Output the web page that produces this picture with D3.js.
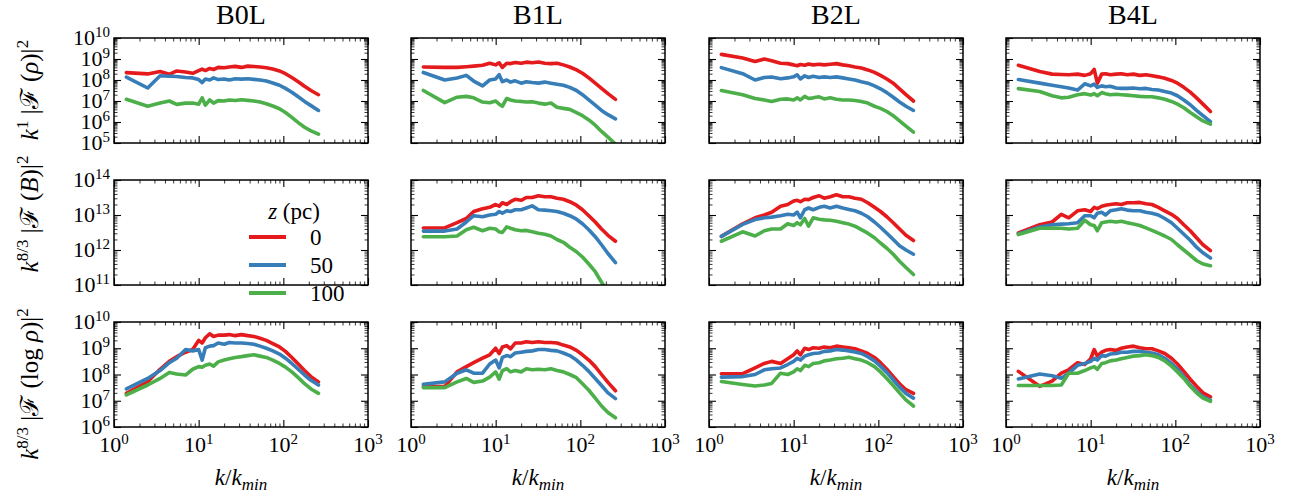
<!DOCTYPE html>
<html>
<head>
<meta charset="utf-8">
<script src="https://cdn.jsdelivr.net/npm/d3@7"></script>
<style>
  body { margin: 0; background: #fff; }
  svg { display: block; }
  text, tspan { font-family: "Liberation Serif", "Times New Roman", "DejaVu Serif", serif; fill: #000; }
</style>
</head>
<body>
<svg id="chart" width="1298" height="499"></svg>
<script>
// Simulation runs (columns), heights above the midplane (series), colours
const runs = ["B0L", "B1L", "B2L", "B4L"];
const heightsPc = ["0", "50", "100"];
const seriesColors = ["#e41a1c", "#377eb8", "#4daf4a"];

// Wavenumber sampling, k / k_min
const kOverKmin = [1.4, 2.5, 3.5, 4.5, 5.5, 7, 8.5, 10, 11, 12, 13.5, 15, 17, 20, 23, 27, 32, 38, 45, 53, 63, 75, 90, 106, 126, 150, 178, 212, 260];

// Row 1: log10 of k |F(rho)|^2
const dens_B0L_0   = [8.35, 8.29, 8.4, 8.27, 8.43, 8.38, 8.32, 8.45, 8.52, 8.45, 8.55, 8.5, 8.6, 8.58, 8.62, 8.65, 8.6, 8.66, 8.64, 8.62, 8.58, 8.52, 8.43, 8.3, 8.12, 7.92, 7.7, 7.5, 7.3];
const dens_B0L_50  = [8.14, 7.62, 8.2, 8.18, 8.17, 8.12, 8.1, 8.02, 7.88, 8.05, 8.0, 8.1, 8.02, 8.05, 8.0, 8.06, 8.04, 8.06, 8.03, 8.0, 7.95, 7.86, 7.75, 7.6, 7.42, 7.2, 6.98, 6.78, 6.55];
const dens_B0L_100 = [7.08, 6.75, 6.9, 7.0, 6.84, 6.9, 6.9, 6.85, 7.15, 6.8, 7.05, 6.9, 7.02, 7.0, 7.05, 7.02, 7.06, 7.03, 7.0, 6.95, 6.87, 6.76, 6.63, 6.45, 6.22, 5.97, 5.75, 5.58, 5.42];
const dens_B1L_0   = [8.62, 8.6, 8.6, 8.63, 8.66, 8.7, 8.8, 8.72, 8.82, 8.6, 8.8, 8.78, 8.83, 8.8, 8.85, 8.82, 8.86, 8.8, 8.78, 8.8, 8.72, 8.62, 8.48, 8.32, 8.1, 7.85, 7.6, 7.35, 7.08];
const dens_B1L_50  = [8.36, 8.0, 8.1, 8.22, 7.95, 7.72, 8.0, 8.05, 8.25, 7.92, 8.0, 7.9, 7.96, 7.85, 7.92, 7.88, 7.85, 7.9, 7.85, 7.8, 7.75, 7.65, 7.5, 7.3, 7.05, 6.8, 6.55, 6.35, 6.15];
const dens_B1L_100 = [7.5, 6.92, 7.18, 7.22, 7.15, 6.95, 6.92, 7.0, 6.85, 6.75, 7.12, 7.05, 7.0, 6.98, 6.95, 6.96, 6.9, 6.85, 6.9, 6.7, 6.65, 6.6, 6.45, 6.3, 6.1, 5.85, 5.55, 5.28, 4.95];
const dens_B2L_0   = [9.22, 9.05, 8.88, 9.0, 8.92, 8.8, 8.78, 8.72, 8.68, 8.74, 8.7, 8.76, 8.72, 8.75, 8.72, 8.75, 8.78, 8.72, 8.68, 8.62, 8.57, 8.48, 8.36, 8.22, 8.05, 7.85, 7.58, 7.3, 7.0];
const dens_B2L_50  = [8.59, 8.3, 8.0, 8.12, 8.14, 8.06, 8.1, 8.15, 8.25, 8.05, 8.2, 8.12, 8.18, 8.12, 8.15, 8.12, 8.15, 8.1, 8.05, 8.0, 7.92, 7.85, 7.72, 7.58, 7.4, 7.18, 6.95, 6.75, 6.55];
const dens_B2L_100 = [7.5, 7.3, 7.12, 7.05, 6.98, 7.08, 7.1, 7.05, 7.15, 7.05, 7.22, 7.12, 7.15, 7.2, 7.1, 7.15, 7.08, 7.05, 7.05, 7.02, 6.98, 6.9, 6.75, 6.65, 6.5, 6.3, 6.05, 5.8, 5.52];
const dens_B4L_0   = [8.7, 8.4, 8.28, 8.26, 8.25, 8.28, 8.22, 8.3, 8.5, 7.85, 8.28, 8.3, 8.25, 8.28, 8.3, 8.25, 8.28, 8.22, 8.25, 8.2, 8.15, 8.08, 7.98, 7.85, 7.65, 7.42, 7.15, 6.85, 6.5];
const dens_B4L_50  = [8.02, 7.85, 7.75, 7.68, 7.62, 7.52, 7.82, 7.72, 7.8, 7.65, 7.72, 7.68, 7.7, 7.62, 7.6, 7.6, 7.62, 7.58, 7.6, 7.55, 7.52, 7.45, 7.38, 7.25, 7.05, 6.82, 6.55, 6.3, 6.02];
const dens_B4L_100 = [7.59, 7.45, 7.25, 7.15, 7.18, 7.3, 7.35, 7.28, 7.35, 7.25, 7.4, 7.35, 7.3, 7.32, 7.3, 7.28, 7.25, 7.22, 7.2, 7.2, 7.15, 7.08, 6.98, 6.85, 6.68, 6.45, 6.25, 6.05, 5.9];

// Row 2: log10 of k^(8/3) |F(B)|^2 (no field in B0L)
const mag_B0L_0 = [], mag_B0L_50 = [], mag_B0L_100 = [];
const mag_B1L_0   = [12.63, 12.63, 12.78, 12.9, 13.1, 13.18, 13.22, 13.3, 13.25, 13.35, 13.3, 13.38, 13.45, 13.42, 13.5, 13.5, 13.55, 13.52, 13.52, 13.48, 13.45, 13.38, 13.28, 13.15, 12.98, 12.8, 12.6, 12.42, 12.25];
const mag_B1L_50  = [12.54, 12.54, 12.6, 12.8, 12.98, 12.95, 13.0, 13.02, 13.1, 13.05, 13.12, 13.1, 13.15, 13.15, 13.2, 13.26, 13.15, 13.14, 13.12, 13.1, 13.05, 12.98, 12.88, 12.75, 12.58, 12.38, 12.15, 11.9, 11.64];
const mag_B1L_100 = [12.38, 12.38, 12.4, 12.58, 12.65, 12.55, 12.62, 12.6, 12.52, 12.5, 12.66, 12.62, 12.58, 12.55, 12.56, 12.52, 12.48, 12.45, 12.4, 12.3, 12.22, 12.08, 11.95, 11.8, 11.6, 11.38, 11.08, 10.8, 10.5];
const mag_B2L_0   = [12.39, 12.75, 12.92, 13.0, 13.08, 13.25, 13.3, 13.4, 13.42, 13.38, 13.45, 13.44, 13.5, 13.55, 13.48, 13.52, 13.58, 13.52, 13.52, 13.48, 13.45, 13.35, 13.22, 13.1, 12.95, 12.78, 12.6, 12.42, 12.27];
const mag_B2L_50  = [12.39, 12.73, 12.87, 12.92, 12.94, 12.98, 13.02, 13.0, 13.08, 12.92, 13.15, 13.2, 13.15, 13.22, 13.25, 13.2, 13.25, 13.2, 13.16, 13.12, 13.05, 12.95, 12.8, 12.65, 12.48, 12.3, 12.12, 12.0, 11.88];
const mag_B2L_100 = [12.25, 12.52, 12.4, 12.55, 12.6, 12.6, 12.75, 12.7, 12.78, 12.72, 12.9, 12.68, 12.92, 12.88, 12.86, 12.85, 12.82, 12.78, 12.74, 12.68, 12.58, 12.48, 12.35, 12.2, 12.05, 11.88, 11.68, 11.5, 11.3];
const mag_B4L_0   = [12.49, 12.72, 12.8, 13.02, 12.92, 13.12, 13.15, 13.1, 13.22, 13.18, 13.25, 13.28, 13.3, 13.32, 13.3, 13.35, 13.35, 13.36, 13.32, 13.3, 13.22, 13.12, 13.02, 12.9, 12.72, 12.55, 12.35, 12.15, 11.98];
const mag_B4L_50  = [12.46, 12.66, 12.72, 12.74, 12.75, 12.78, 12.98, 12.98, 12.92, 13.05, 13.08, 13.0, 13.12, 13.15, 13.18, 13.14, 13.12, 13.12, 13.08, 13.05, 13.0, 12.9, 12.78, 12.62, 12.45, 12.28, 12.08, 11.92, 11.77];
const mag_B4L_100 = [12.44, 12.62, 12.63, 12.62, 12.6, 12.62, 12.85, 12.72, 12.7, 12.55, 12.78, 12.8, 12.82, 12.8, 12.82, 12.78, 12.74, 12.7, 12.63, 12.56, 12.48, 12.4, 12.3, 12.15, 12.0, 11.85, 11.7, 11.6, 11.55];

// Row 3: log10 of k^(8/3) |F(log rho)|^2
const lrho_B0L_0   = [7.28, 7.72, 8.2, 8.5, 8.68, 8.85, 8.95, 9.3, 9.2, 9.4, 9.55, 9.45, 9.5, 9.5, 9.52, 9.48, 9.52, 9.48, 9.45, 9.38, 9.3, 9.18, 9.05, 8.88, 8.65, 8.4, 8.15, 7.92, 7.72];
const lrho_B0L_50  = [7.45, 7.85, 8.15, 8.45, 8.62, 8.95, 8.9, 8.95, 8.55, 9.02, 9.08, 9.1, 9.2, 9.15, 9.22, 9.2, 9.2, 9.18, 9.15, 9.08, 9.0, 8.9, 8.78, 8.62, 8.42, 8.2, 7.98, 7.78, 7.6];
const lrho_B0L_100 = [7.22, 7.6, 7.85, 8.08, 8.02, 7.98, 8.2, 8.3, 8.28, 8.35, 8.4, 8.32, 8.48, 8.55, 8.6, 8.65, 8.68, 8.72, 8.75, 8.7, 8.65, 8.55, 8.42, 8.28, 8.1, 7.88, 7.65, 7.45, 7.28];
const lrho_B1L_0   = [7.54, 7.54, 8.1, 8.3, 8.45, 8.62, 8.75, 9.0, 8.8, 9.05, 9.1, 8.98, 9.2, 9.2, 9.25, 9.22, 9.25, 9.22, 9.22, 9.2, 9.12, 9.05, 8.92, 8.75, 8.55, 8.3, 8.0, 7.7, 7.38];
const lrho_B1L_50  = [7.63, 7.72, 8.05, 8.18, 8.05, 8.05, 8.4, 8.55, 8.25, 8.65, 8.72, 8.68, 8.82, 8.85, 8.88, 8.9, 8.95, 8.95, 8.92, 8.9, 8.82, 8.72, 8.55, 8.35, 8.12, 7.85, 7.58, 7.3, 7.08];
const lrho_B1L_100 = [7.5, 7.5, 7.72, 7.85, 7.7, 7.75, 7.9, 8.1, 7.82, 8.15, 8.22, 8.1, 8.15, 8.1, 8.22, 8.18, 8.2, 8.18, 8.22, 8.15, 8.1, 8.0, 7.88, 7.65, 7.4, 7.1, 6.8, 6.55, 6.35];
const lrho_B2L_0   = [8.03, 8.03, 8.25, 8.42, 8.5, 8.42, 8.6, 8.75, 8.9, 8.75, 9.0, 8.95, 9.02, 9.0, 9.05, 9.02, 9.08, 9.05, 9.02, 8.98, 8.9, 8.8, 8.65, 8.45, 8.2, 7.92, 7.65, 7.42, 7.28];
const lrho_B2L_50  = [7.9, 7.92, 8.0, 8.18, 8.22, 8.25, 8.38, 8.5, 8.62, 8.55, 8.7, 8.75, 8.8, 8.82, 8.88, 8.9, 8.95, 8.93, 8.9, 8.86, 8.8, 8.68, 8.52, 8.32, 8.08, 7.8, 7.52, 7.28, 7.1];
const lrho_B2L_100 = [7.73, 7.62, 7.56, 7.6, 7.66, 8.05, 8.0, 8.1, 8.22, 8.15, 8.35, 8.3, 8.42, 8.45, 8.52, 8.55, 8.6, 8.62, 8.66, 8.6, 8.55, 8.45, 8.3, 8.1, 7.85, 7.58, 7.3, 7.03, 6.8];
const lrho_B4L_0   = [8.12, 7.55, 7.75, 8.05, 8.18, 8.45, 8.38, 8.6, 8.95, 8.7, 8.85, 8.92, 8.95, 8.92, 9.0, 9.05, 9.08, 9.02, 8.98, 8.98, 8.9, 8.8, 8.62, 8.4, 8.12, 7.82, 7.55, 7.3, 7.15];
const lrho_B4L_50  = [7.83, 8.02, 7.95, 7.86, 8.05, 8.35, 8.42, 8.5, 8.62, 8.55, 8.72, 8.7, 8.78, 8.8, 8.85, 8.85, 8.88, 8.88, 8.85, 8.82, 8.75, 8.62, 8.42, 8.2, 7.92, 7.6, 7.35, 7.15, 7.02];
const lrho_B4L_100 = [7.58, 7.58, 7.58, 7.6, 8.05, 8.05, 8.15, 8.25, 8.3, 8.2, 8.42, 8.45, 8.52, 8.55, 8.6, 8.65, 8.7, 8.72, 8.75, 8.72, 8.65, 8.52, 8.32, 8.1, 7.85, 7.55, 7.3, 7.1, 6.98];

// Axis ranges (decade exponents) per row
const xDecades = [0, 3];
const yDecades = [[5, 10], [11, 14], [6, 10]];

// Grid of spectra: [row][column][height]
const spectra = [
  [[dens_B0L_0, dens_B0L_50, dens_B0L_100], [dens_B1L_0, dens_B1L_50, dens_B1L_100],
   [dens_B2L_0, dens_B2L_50, dens_B2L_100], [dens_B4L_0, dens_B4L_50, dens_B4L_100]],
  [[mag_B0L_0, mag_B0L_50, mag_B0L_100], [mag_B1L_0, mag_B1L_50, mag_B1L_100],
   [mag_B2L_0, mag_B2L_50, mag_B2L_100], [mag_B4L_0, mag_B4L_50, mag_B4L_100]],
  [[lrho_B0L_0, lrho_B0L_50, lrho_B0L_100], [lrho_B1L_0, lrho_B1L_50, lrho_B1L_100],
   [lrho_B2L_0, lrho_B2L_50, lrho_B2L_100], [lrho_B4L_0, lrho_B4L_50, lrho_B4L_100]]
];

// ---- layout ----
const fontFamily = '"Liberation Serif", "Times New Roman", "DejaVu Serif", serif';
const panelLeft = [114, 411, 709, 1006];
const panelTop = [38, 180, 322];
const panelW = 254, panelH = 105;
const tickFont = 22, supFont = 15, supRise = 8;

const svg = d3.select("#chart");

const x = d3.scaleLog().domain([10 ** xDecades[0], 10 ** xDecades[1]]).range([0, panelW]);

function logTicks(lo, hi) {
  const major = [], minor = [];
  for (let e = lo; e <= hi; e++) major.push(10 ** e);
  for (let e = lo; e < hi; e++) for (let m = 2; m <= 9; m++) minor.push(m * 10 ** e);
  return { major, minor };
}

// "10^n" label with raised exponent
function powLabel(sel, n) {
  sel.attr("font-family", fontFamily);
  sel.append("tspan").text("10");
  sel.append("tspan").attr("dy", -supRise).attr("font-size", supFont).text(n);
}

// Rich text helper: parts with italic / superscript / subscript
function richText(sel, parts, base, small, rise) {
  sel.attr("font-family", fontFamily);
  let shift = 0;
  parts.forEach(p => {
    const t = sel.append("tspan").text(p.t);
    let target = 0;
    if (p.sup) target = -rise;
    if (p.sub) target = rise * 0.6;
    t.attr("dy", target - shift);
    shift = target;
    t.attr("font-size", (p.sup || p.sub) ? small : base);
    if (p.i) t.attr("font-style", "italic");
  });
}

const xt = logTicks(xDecades[0], xDecades[1]);

spectra.forEach((rowData, r) => {
  const y = d3.scaleLog().domain([10 ** yDecades[r][0], 10 ** yDecades[r][1]]).range([panelH, 0]);
  const yt = logTicks(yDecades[r][0], yDecades[r][1]);

  rowData.forEach((colData, c) => {
    const g = svg.append("g").attr("transform", `translate(${panelLeft[c]},${panelTop[r]})`);
    const clipId = `clip-${r}-${c}`;
    g.append("clipPath").attr("id", clipId)
      .append("rect").attr("width", panelW).attr("height", panelH);

    // spectra
    const line = d3.line()
      .x((v, i) => x(kOverKmin[i]))
      .y(v => y(10 ** v));
    const lines = g.append("g").attr("clip-path", `url(#${clipId})`);
    colData.forEach((vals, s) => {
      if (!vals.length) return;
      lines.append("path")
        .attr("d", line(vals))
        .attr("fill", "none")
        .attr("stroke", seriesColors[s])
        .attr("stroke-width", 3.6)
        .attr("stroke-linejoin", "round")
        .attr("stroke-linecap", "round");
    });

    // inward ticks on all four sides
    const axes = [
      [() => d3.axisBottom(x), `translate(0,${panelH})`, xt],
      [() => d3.axisTop(x), `translate(0,0)`, xt],
      [() => d3.axisLeft(y), `translate(0,0)`, yt],
      [() => d3.axisRight(y), `translate(${panelW},0)`, yt]
    ];
    axes.forEach(([makeAxis, tr, tk]) => {
      [[tk.minor, 3.5, 0.8], [tk.major, 7, 1.1]].forEach(([vals, len, sw]) => {
        const a = g.append("g").attr("transform", tr)
          .call(makeAxis().tickValues(vals).tickSize(-len).tickFormat(""));
        a.select(".domain").remove();
        a.selectAll("line").attr("stroke", "#000").attr("stroke-width", sw);
      });
    });

    g.append("rect").attr("width", panelW).attr("height", panelH)
      .attr("fill", "none").attr("stroke", "#000").attr("stroke-width", 1.5);

    // y tick labels on the first column
    if (c === 0) {
      yt.major.forEach((m, i) => {
        const t = g.append("text")
          .attr("x", -4).attr("y", y(m) + 7)
          .attr("text-anchor", "end").attr("font-size", tickFont);
        powLabel(t, yDecades[r][0] + i);
      });
    }
    // x tick labels on the bottom row
    if (r === 2) {
      xt.major.forEach((m, i) => {
        const t = g.append("text")
          .attr("x", x(m)).attr("y", panelH + 25)
          .attr("text-anchor", "middle").attr("font-size", tickFont);
        powLabel(t, xDecades[0] + i);
      });
      const xl = g.append("text")
        .attr("x", panelW / 2).attr("y", panelH + 58)
        .attr("text-anchor", "middle");
      richText(xl, [{ t: "k", i: true }, { t: "/" }, { t: "k", i: true }, { t: "min", i: true, sub: true }], 23, 17, 9);
    }
    // run titles on the top row
    if (r === 0) {
      g.append("text").attr("x", panelW / 2).attr("y", -14)
        .attr("text-anchor", "middle").attr("font-size", 28)
        .attr("font-family", fontFamily).text(runs[c]);
    }
  });
});

// y-axis labels
const yLabels = [
  { cy: 90, parts: [{ t: "k", i: true }, { t: "1", sup: true }, { t: " |ℱ (" }, { t: "ρ", i: true }, { t: ")|" }, { t: "2", sup: true }] },
  { cy: 214, parts: [{ t: "k", i: true }, { t: "8/3", sup: true }, { t: " |ℱ (" }, { t: "B", i: true }, { t: ")|" }, { t: "2", sup: true }] },
  { cy: 384, parts: [{ t: "k", i: true }, { t: "8/3", sup: true }, { t: " |ℱ (log " }, { t: "ρ", i: true }, { t: ")|" }, { t: "2", sup: true }] }
];
yLabels.forEach(l => {
  const t = svg.append("text")
    .attr("transform", `translate(38,${l.cy}) rotate(-90)`)
    .attr("text-anchor", "middle");
  richText(t, l.parts, 25, 17, 10);
});

// legend inside the empty B0L magnetic panel
const legend = svg.append("g");
const lt = legend.append("text").attr("x", 294).attr("y", 219).attr("text-anchor", "middle");
richText(lt, [{ t: "z", i: true }, { t: " (pc)" }], 23, 17, 9);
heightsPc.forEach((h, i) => {
  const yy = 237 + i * 28;
  legend.append("line").attr("x1", 249).attr("x2", 286).attr("y1", yy).attr("y2", yy)
    .attr("stroke", seriesColors[i]).attr("stroke-width", 4);
  legend.append("text").attr("x", 310).attr("y", yy + 8).attr("font-size", 23)
    .attr("font-family", fontFamily).text(h);
});
</script>
</body>
</html>
